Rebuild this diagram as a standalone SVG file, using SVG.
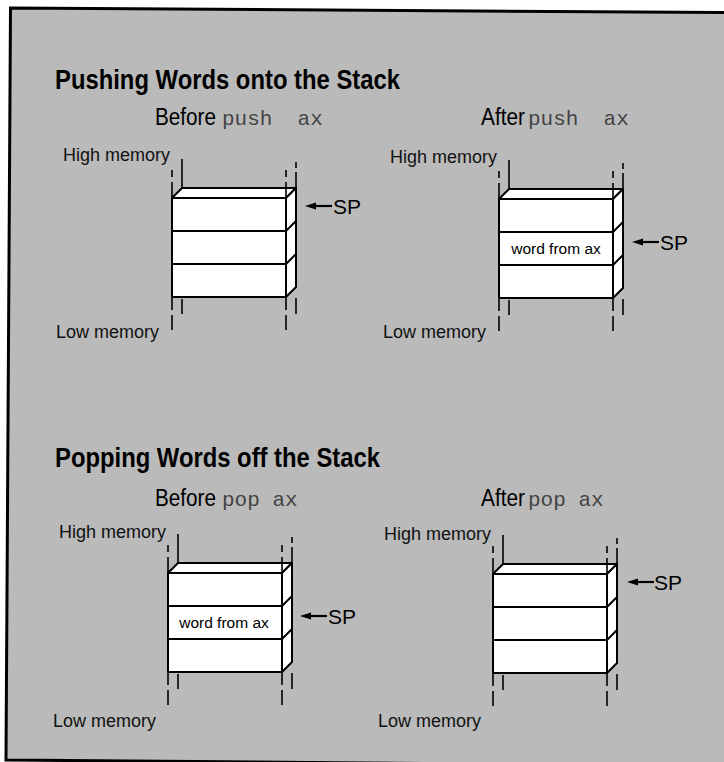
<svg xmlns="http://www.w3.org/2000/svg" width="724" height="762" viewBox="0 0 724 762">
  <defs>
    <style>
      .lbl{font-family:"Liberation Sans",Arial,sans-serif;font-size:18px;fill:#111}
      .ttl{font-family:"Liberation Sans",Arial,sans-serif;font-weight:bold;font-size:27px;fill:#000}
      .cap{font-family:"Liberation Sans",Arial,sans-serif;font-size:23px;fill:#000}
      .mono{font-family:"Liberation Mono","Courier New",monospace;font-size:21px;fill:#444}
      .sp{font-family:"Liberation Sans",Arial,sans-serif;font-size:21px;fill:#000}
      .word{font-family:"Liberation Sans",Arial,sans-serif;font-size:15.5px;fill:#000;text-anchor:middle}
      .box{fill:#fff;stroke:#000;stroke-width:2;stroke-linejoin:round}
      .edge{fill:none;stroke:#000;stroke-width:2}
      .guide{fill:none;stroke:#000;stroke-width:1.6}
      .ptr{stroke:#000;stroke-width:2.2}
    </style>
    <!-- three-word stack drawn as a block; origin = front top-left corner -->
    <g id="stack">
      <polygon class="box" points="0,0 10,-10 124,-10 114,0"/>
      <polygon class="box" points="114,0 124,-10 124,89 114,99"/>
      <rect class="box" x="0" y="0" width="114" height="99"/>
      <path class="edge" d="M0,33H114M0,66H114M114,33L124,23M114,66L124,56"/>
      <path class="guide" d="M0,-28V-21M0,-16V0M10,-39V-10M114,-28V-21M114,-16V0M124,-36V-30M124,-26V-10M0,100V112M0,117V132M10,101V116M114,100V112M114,117V132M124,100V116"/>
    </g>
    <!-- stack pointer arrow; origin = arrow tip -->
    <g id="pointer">
      <polygon points="0,0 11,-3.5 11,3.5" fill="#000"/>
      <line class="ptr" x1="9" y1="0" x2="27" y2="0"/>
    </g>
  </defs>

  <!-- paper and tinted panel -->
  <rect width="724" height="762" fill="#fff"/>
  <polygon points="10.5,8 724,12.5 724,766 6,760" fill="#bababa"/>
  <path d="M724,12.5L10.5,8L6,760L724,766" fill="none" stroke="#000" stroke-width="3"/>

  <!-- section: pushing -->
  <text class="ttl" x="55" y="89" textLength="345" lengthAdjust="spacingAndGlyphs">Pushing Words onto the Stack</text>
  <text class="cap" x="155" y="125" textLength="61" lengthAdjust="spacingAndGlyphs">Before</text>
  <text class="mono" x="222" y="125" xml:space="preserve">push  ax</text>
  <text class="cap" x="481" y="125" textLength="44" lengthAdjust="spacingAndGlyphs">After</text>
  <text class="mono" x="528" y="125" xml:space="preserve">push  ax</text>

  <g id="stack-before-push">
    <use href="#stack" x="172" y="198"/>
    <text class="lbl" x="170" y="161" text-anchor="end">High memory</text>
    <text class="lbl" x="159" y="338" text-anchor="end">Low memory</text>
  </g>
  <g id="stack-after-push">
    <use href="#stack" x="499" y="199"/>
    <text class="word" x="556" y="253.5">word from ax</text>
    <text class="lbl" x="497" y="162.5" text-anchor="end">High memory</text>
    <text class="lbl" x="486" y="338" text-anchor="end">Low memory</text>
  </g>

  <!-- section: popping -->
  <text class="ttl" x="55" y="467" textLength="325" lengthAdjust="spacingAndGlyphs">Popping Words off the Stack</text>
  <text class="cap" x="155" y="506" textLength="61" lengthAdjust="spacingAndGlyphs">Before</text>
  <text class="mono" x="222" y="506" xml:space="preserve">pop ax</text>
  <text class="cap" x="481" y="506" textLength="44" lengthAdjust="spacingAndGlyphs">After</text>
  <text class="mono" x="528" y="506" xml:space="preserve">pop ax</text>

  <g id="stack-before-pop">
    <use href="#stack" x="168" y="573"/>
    <text class="word" x="224" y="628">word from ax</text>
    <text class="lbl" x="166" y="537.5" text-anchor="end">High memory</text>
    <text class="lbl" x="156" y="727" text-anchor="end">Low memory</text>
  </g>
  <g id="stack-after-pop">
    <use href="#stack" x="493" y="574"/>
    <text class="lbl" x="491" y="539.5" text-anchor="end">High memory</text>
    <text class="lbl" x="481" y="727" text-anchor="end">Low memory</text>
  </g>

  <!-- SP pointers -->
  <g id="connectors">
    <use href="#pointer" x="305" y="206"/>
    <use href="#pointer" x="632" y="242"/>
    <use href="#pointer" x="300" y="616"/>
    <use href="#pointer" x="627" y="582"/>
  </g>
  <g id="sp-labels">
    <text class="sp" x="333" y="213.5">SP</text>
    <text class="sp" x="660" y="250">SP</text>
    <text class="sp" x="328" y="624">SP</text>
    <text class="sp" x="654" y="590">SP</text>
  </g>
</svg>
